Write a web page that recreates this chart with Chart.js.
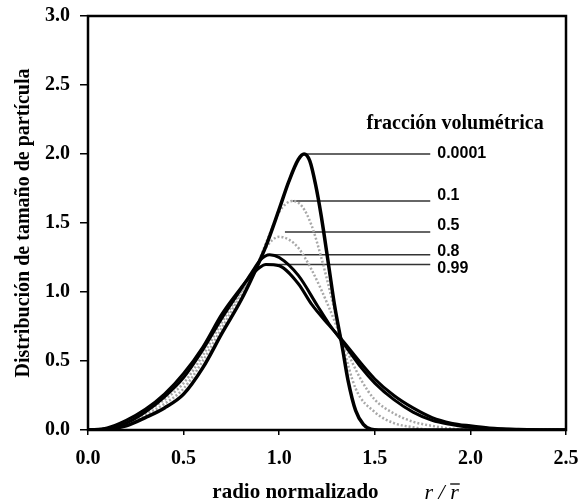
<!DOCTYPE html>
<html lang="es">
<head>
  <meta charset="UTF-8" />
  <title>Distribución de tamaño de partícula</title>
  <script src="https://cdn.jsdelivr.net/npm/chart.js"></script>
  <style>
    body { margin: 0; background: #fff; }
    #wrap { width: 579px; height: 504px; }
  </style>
</head>
<body>
  <div id="wrap"><canvas id="chart"></canvas></div>

  <script>
    // curves: x = r / r̄, y = distribution
    const x0001 = [0, 0.1, 0.2, 0.3, 0.4, 0.5, 0.6, 0.7, 0.8, 0.87, 0.93, 1.0, 1.05, 1.1, 1.13, 1.16, 1.19, 1.22, 1.26, 1.29, 1.33, 1.36, 1.40, 1.44, 1.48, 1.52, 2.5];
    const y0001 = [0, 0.005, 0.03, 0.09, 0.16, 0.26, 0.45, 0.70, 0.94, 1.14, 1.33, 1.60, 1.80, 1.96, 2.0, 1.95, 1.78, 1.55, 1.18, 0.90, 0.60, 0.36, 0.14, 0.04, 0.005, 0, 0];

    const x01 = [0, 0.1, 0.2, 0.3, 0.4, 0.5, 0.6, 0.7, 0.8, 0.87, 0.95, 1.0, 1.07, 1.12, 1.17, 1.22, 1.27, 1.33, 1.4, 1.5, 1.6, 1.7, 1.8, 2.5];
    const y01 = [0, 0.008, 0.04, 0.11, 0.19, 0.30, 0.50, 0.74, 0.98, 1.15, 1.42, 1.58, 1.66, 1.62, 1.48, 1.25, 0.98, 0.63, 0.30, 0.13, 0.05, 0.02, 0, 0];

    const x05 = [0, 0.1, 0.2, 0.3, 0.4, 0.5, 0.6, 0.7, 0.8, 0.87, 0.93, 1.0, 1.05, 1.1, 1.17, 1.26, 1.33, 1.43, 1.5, 1.6, 1.7, 1.8, 1.9, 2.1, 2.5];
    const y05 = [0, 0.01, 0.05, 0.13, 0.22, 0.34, 0.54, 0.78, 1.0, 1.15, 1.32, 1.40, 1.38, 1.32, 1.16, 0.89, 0.65, 0.36, 0.22, 0.12, 0.06, 0.03, 0.01, 0, 0];

    const x08 = [0, 0.1, 0.2, 0.3, 0.4, 0.5, 0.6, 0.7, 0.8, 0.86, 0.9, 0.95, 1.0, 1.1, 1.2, 1.26, 1.33, 1.43, 1.5, 1.6, 1.7, 1.8, 1.9, 2.0, 2.2, 2.35, 2.5];
    const y08 = [0, 0.01, 0.05, 0.13, 0.24, 0.38, 0.58, 0.81, 1.02, 1.15, 1.23, 1.27, 1.25, 1.12, 0.90, 0.77, 0.64, 0.45, 0.34, 0.22, 0.13, 0.07, 0.04, 0.02, 0.005, 0, 0];

    const x099 = [0, 0.1, 0.2, 0.3, 0.4, 0.5, 0.6, 0.7, 0.8, 0.84, 0.9, 0.93, 1.0, 1.1, 1.17, 1.26, 1.33, 1.43, 1.5, 1.6, 1.7, 1.8, 1.9, 2.0, 2.1, 2.25, 2.4, 2.5];
    const y099 = [0, 0.015, 0.07, 0.15, 0.26, 0.41, 0.60, 0.84, 1.03, 1.10, 1.18, 1.20, 1.19, 1.06, 0.91, 0.76, 0.65, 0.48, 0.37, 0.25, 0.16, 0.09, 0.05, 0.03, 0.015, 0.005, 0, 0];

    // leader lines and labels of the "fracción volumétrica" key
    const fracLabels = ['0.0001', '0.1', '0.5', '0.8', '0.99'];
    const leaderY = [2.0, 1.66, 1.435, 1.27, 1.20];
    const leaderStart = [1.13, 1.07, 1.03, 0.94, 0.93];
    const leaderEnd = 1.79;
    const labelY = [2.0, 1.70, 1.48, 1.29, 1.17];

    const pts = (xs, ys) => xs.map((x, i) => ({ x: x, y: ys[i] }));

    const curve = (data, color, width, dash, order) => ({
      data: data,
      borderColor: color,
      borderWidth: width,
      borderDash: dash,
      pointRadius: 0,
      tension: 0.4,
      cubicInterpolationMode: 'monotone',
      fill: false,
      order: order
    });

    const datasets = [
      curve(pts(x0001, y0001), '#000', 3.5, [], 0),
      curve(pts(x08, y08), '#000', 3, [], 0),
      curve(pts(x099, y099), '#000', 3, [], 0),
      curve(pts(x01, y01), '#a8a8a8', 2.5, [2, 2], 1),
      curve(pts(x05, y05), '#a8a8a8', 2.5, [2, 2], 1)
    ];
    leaderY.forEach((v, i) => {
      datasets.push({
        data: [{ x: leaderStart[i], y: v }, { x: leaderEnd, y: v }],
        borderColor: '#333',
        borderWidth: 1.5,
        pointRadius: 0,
        tension: 0,
        order: 2
      });
    });

    const serif = "'Liberation Serif', 'Times New Roman', serif";
    const sans = "'Liberation Sans', Arial, sans-serif";

    // no extra room for tick labels overflowing the plot box
    const noPad = s => {
      s.paddingTop = 0; s.paddingBottom = 0;
      s.paddingLeft = 0; s.paddingRight = 0;
    };

    // frame, axis titles and the key texts
    const decor = {
      id: 'decor',
      afterDraw(chart) {
        const c = chart.ctx;
        const a = chart.chartArea;
        const xs = chart.scales.x, ys = chart.scales.y;
        c.save();
        c.strokeStyle = '#000';
        c.lineWidth = 2.5;
        c.strokeRect(a.left, a.top, a.right - a.left, a.bottom - a.top);

        c.fillStyle = '#000';
        c.textBaseline = 'middle';

        // key
        c.font = 'bold 20px ' + serif;
        c.textAlign = 'center';
        c.fillText('fracción volumétrica', xs.getPixelForValue(1.92), ys.getPixelForValue(2.22));
        c.font = 'bold 16px ' + sans;
        c.textAlign = 'left';
        fracLabels.forEach((t, i) => {
          c.fillText(t, xs.getPixelForValue(leaderEnd) + 7, ys.getPixelForValue(labelY[i]));
        });

        // y title
        c.save();
        c.translate(24, (a.top + a.bottom) / 2);
        c.rotate(-Math.PI / 2);
        c.textAlign = 'center';
        c.font = 'bold 20px ' + serif;
        c.fillText('Distribución de tamaño de partícula', 0, 0);
        c.restore();

        // x title
        const ty = a.bottom + 63;
        c.textAlign = 'center';
        c.font = 'bold 21px ' + serif;
        c.fillText('radio normalizado', xs.getPixelForValue(1.085), ty);
        c.font = 'italic 22px ' + serif;
        c.textAlign = 'left';
        const rx = xs.getPixelForValue(1.76);
        const part = 'r / ';
        c.fillText(part, rx, ty);
        const w = c.measureText(part).width;
        c.fillText('r', rx + w, ty);
        const rw = c.measureText('r').width;
        c.lineWidth = 1.3;
        c.beginPath();
        c.moveTo(rx + w, ty - 9);
        c.lineTo(rx + w + rw + 1, ty - 9);
        c.stroke();
        c.restore();
      }
    };

    new Chart(document.getElementById('chart'), {
      type: 'line',
      data: { datasets: datasets },
      options: {
        responsive: true,
        maintainAspectRatio: false,
        animation: false,
        layout: { padding: { top: 16, right: 13, left: 0, bottom: 0 } },
        plugins: { legend: { display: false }, tooltip: { enabled: false } },
        scales: {
          x: {
            type: 'linear',
            min: 0,
            max: 2.5,
            ticks: {
              stepSize: 0.5,
              color: '#000',
              font: { family: serif, size: 20, weight: 'bold' },
              padding: 12,
              callback: v => v.toFixed(1)
            },
            grid: { drawOnChartArea: false, tickLength: 5, color: '#000', lineWidth: 1.5 },
            border: { display: false },
            afterFit: s => { s.height = 74; noPad(s); }
          },
          y: {
            min: 0,
            max: 3,
            ticks: {
              stepSize: 0.5,
              color: '#000',
              font: { family: serif, size: 20, weight: 'bold' },
              padding: 10,
              callback: v => v.toFixed(1)
            },
            grid: { drawOnChartArea: false, tickLength: 8, color: '#000', lineWidth: 1.5 },
            border: { display: false },
            afterFit: s => { s.width = 88; noPad(s); }
          }
        }
      },
      plugins: [decor]
    });
  </script>
</body>
</html>
